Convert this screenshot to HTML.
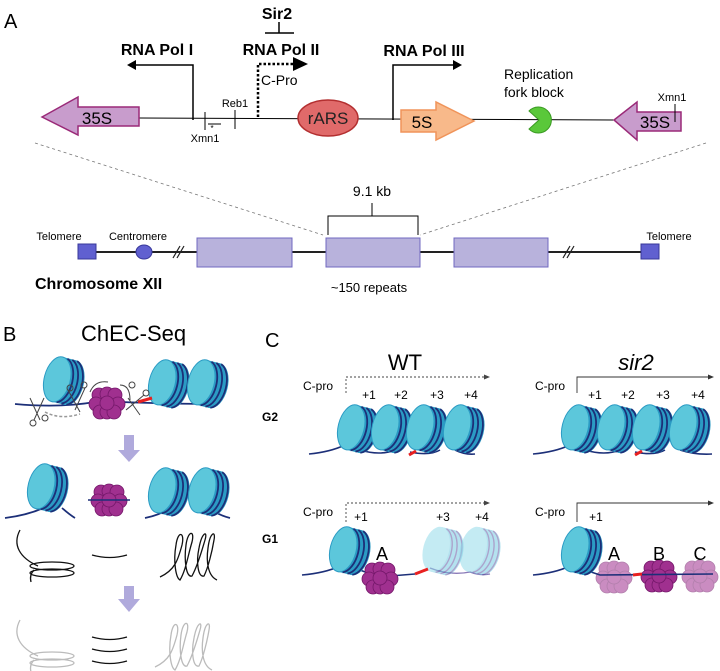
<!DOCTYPE html>
<html><head><meta charset="utf-8"><style>
html,body{margin:0;padding:0;background:#fff}
svg{display:block}
text{font-family:"Liberation Sans",sans-serif}
</style></head><body>
<svg width="720" height="671" viewBox="0 0 720 671" xmlns="http://www.w3.org/2000/svg">
<defs>
<g id="nuc">
 <g transform="rotate(14 22 26)">
  <rect x="15" y="3" width="14" height="46" fill="#2b9bc4"/>
  <ellipse cx="29" cy="26" rx="13" ry="23" fill="#2b9bc4"/>
  <ellipse cx="15" cy="26" rx="13" ry="23" fill="#5cc7db" stroke="#2b9bc4" stroke-width="1"/>
  <path d="M20,3.5 A13,23 0 0 1 20,48.5 M25,3.5 A13,23 0 0 1 25,48.5 M30,3.5 A13,23 0 0 1 30,48.5" fill="none" stroke="#1c2f78" stroke-width="1.8"/>
 </g>
</g>
<g id="nucf" opacity="0.5">
 <g transform="rotate(14 22 26)">
  <rect x="15" y="3" width="14" height="46" fill="#6cc6e0"/>
  <ellipse cx="29" cy="26" rx="13" ry="23" fill="#6cc6e0"/>
  <ellipse cx="15" cy="26" rx="13" ry="23" fill="#8ad8e8"/>
  <path d="M20,3.5 A13,23 0 0 1 20,48.5 M25,3.5 A13,23 0 0 1 25,48.5 M30,3.5 A13,23 0 0 1 30,48.5" fill="none" stroke="#5a4a9a" stroke-width="1.4"/>
 </g>
</g>
<g id="blob">
 <g fill="#a0308f" stroke="#74186a" stroke-width="0.8">
  <circle cx="-8" cy="-8" r="7"/><circle cx="0" cy="-9" r="7"/><circle cx="8" cy="-8" r="7"/>
  <circle cx="-11" cy="1" r="7"/><circle cx="11" cy="1" r="7"/>
  <circle cx="-7" cy="9" r="7"/><circle cx="0" cy="9" r="7"/><circle cx="7" cy="9" r="7"/>
  <circle cx="0" cy="0" r="7"/>
 </g>
</g>
<g id="coilL" fill="none" stroke-width="1.3">
 <path d="M20,530 C12,545 20,558 38,566"/>
 <ellipse cx="52" cy="566" rx="22" ry="4"/>
 <ellipse cx="52" cy="573" rx="22" ry="4"/>
 <path d="M34,570 C30,574 30,578 31,582"/>
</g>
<g id="coilR" fill="none" stroke-width="1.3">
 <path d="M160,577 C175,570 178,560 182,545 C185,532 178,530 176,545 C173,562 176,578 180,580 C186,570 188,555 192,542 C195,530 188,530 186,545 C184,560 186,578 192,576 C198,565 202,550 205,540 C208,530 202,532 199,548 C196,562 198,578 204,576 C208,568 212,552 214,540 C216,530 210,532 208,548 C206,562 208,576 217,580"/>
</g>
</defs>

<!-- Panel A -->
<text x="4" y="28" font-size="20">A</text>
<text x="277" y="19" font-size="16" font-weight="bold" text-anchor="middle">Sir2</text>
<line x1="279" y1="22" x2="279" y2="33" stroke="#000" stroke-width="1.5"/>
<line x1="265" y1="33" x2="294" y2="33" stroke="#000" stroke-width="1.5"/>
<text x="281" y="55" font-size="16" font-weight="bold" text-anchor="middle">RNA Pol II</text>
<text x="157" y="55" font-size="16" font-weight="bold" text-anchor="middle">RNA Pol I</text>
<text x="424" y="56" font-size="16" font-weight="bold" text-anchor="middle">RNA Pol III</text>

<path d="M193,120 V65 H134" fill="none" stroke="#000" stroke-width="1.5"/>
<polygon points="127,65 136,60 136,70" fill="#000"/>
<path d="M258,117 V64 H293" fill="none" stroke="#000" stroke-width="2.5" stroke-dasharray="2.5,2"/>
<polygon points="293,57 308,64 293,71" fill="#000"/>
<text x="261" y="85" font-size="14">C-Pro</text>
<path d="M393,120 V65 H455" fill="none" stroke="#000" stroke-width="1.5"/>
<polygon points="462,65 453,60 453,70" fill="#000"/>

<line x1="139" y1="118" x2="614" y2="120" stroke="#000" stroke-width="1"/>
<polygon points="42,117 78,97 78,107 139,107 139,126 78,126 78,135" fill="#c89ccc" stroke="#9a2a78" stroke-width="1.5"/>
<text x="97" y="124" font-size="17" text-anchor="middle">35S</text>
<line x1="205" y1="112" x2="205" y2="130" stroke="#000" stroke-width="1"/>
<line x1="208" y1="124" x2="221" y2="124" stroke="#000" stroke-width="1"/>
<text x="212" y="131" font-size="8" text-anchor="middle">*</text>
<text x="205" y="142" font-size="11" text-anchor="middle">Xmn1</text>
<text x="235" y="107" font-size="11" text-anchor="middle">Reb1</text>
<line x1="235" y1="110" x2="235" y2="129" stroke="#000" stroke-width="1"/>
<ellipse cx="328" cy="118" rx="30" ry="18" fill="#e06a6a" stroke="#b32f30" stroke-width="1.5"/>
<text x="328" y="124" font-size="17" text-anchor="middle" fill="#222">rARS</text>
<polygon points="401,110 436,110 436,102 474,121 436,140 436,132 401,132" fill="#f8b98a" stroke="#f0945a" stroke-width="1.5"/>
<text x="422" y="128" font-size="17" text-anchor="middle">5S</text>
<text x="504" y="79" font-size="14">Replication</text>
<text x="504" y="97" font-size="14">fork block</text>
<path d="M539,120 L529,111 A13,13 0 1 1 529,129 Z" fill="#5ac83a" stroke="#3a9a22" stroke-width="1"/>
<polygon points="614,120 637,102 637,112 681,112 681,131 637,131 637,140" fill="#c89ccc" stroke="#9a2a78" stroke-width="1.5"/>
<text x="655" y="128" font-size="17" text-anchor="middle">35S</text>
<line x1="675" y1="104" x2="675" y2="122" stroke="#000" stroke-width="1"/>
<text x="672" y="101" font-size="11" text-anchor="middle">Xmn1</text>

<line x1="35" y1="143" x2="323" y2="235" stroke="#777" stroke-width="0.8" stroke-dasharray="3,3"/>
<line x1="706" y1="143" x2="420" y2="235" stroke="#777" stroke-width="0.8" stroke-dasharray="3,3"/>

<text x="372" y="196" font-size="14" text-anchor="middle">9.1 kb</text>
<path d="M372,203 V216 M328,235 V216 H418 V235" fill="none" stroke="#000" stroke-width="1"/>
<line x1="96" y1="252" x2="641" y2="252" stroke="#222" stroke-width="2"/>
<rect x="78" y="244" width="18" height="15" fill="#6060d0" stroke="#38389a"/>
<rect x="641" y="244" width="18" height="15" fill="#6060d0" stroke="#38389a"/>
<ellipse cx="144" cy="252" rx="8" ry="7" fill="#6060d0" stroke="#38389a"/>
<path d="M173,258 L180,246 M177,258 L184,246 M563,258 L570,246 M567,258 L574,246" stroke="#222" stroke-width="1.2"/>
<rect x="197" y="238" width="95" height="29" fill="#b8b2dc" stroke="#7068c0"/>
<rect x="326" y="238" width="94" height="29" fill="#b8b2dc" stroke="#7068c0"/>
<rect x="454" y="238" width="94" height="29" fill="#b8b2dc" stroke="#7068c0"/>
<text x="59" y="240" font-size="11" text-anchor="middle">Telomere</text>
<text x="138" y="240" font-size="11" text-anchor="middle">Centromere</text>
<text x="669" y="240" font-size="11" text-anchor="middle">Telomere</text>
<text x="35" y="289" font-size="16" font-weight="bold">Chromosome XII</text>
<text x="369" y="292" font-size="13" text-anchor="middle">~150 repeats</text>

<!-- Panel B -->
<text x="3" y="341" font-size="20">B</text>
<text x="81" y="341" font-size="22">ChEC-Seq</text>
<path d="M15,404 Q60,408 95,402 L120,402 Q175,404 218,404" fill="none" stroke="#1c2f78" stroke-width="1.8"/>
<use href="#nuc" x="42" y="355"/>
<use href="#nuc" x="147" y="358"/>
<use href="#nuc" x="186" y="358"/>
<line x1="138" y1="402" x2="152" y2="398" stroke="#e82020" stroke-width="3"/>
<path d="M45,412 Q60,420 80,414" fill="none" stroke="#999" stroke-width="1.5" stroke-dasharray="3,2"/>
<use href="#blob" x="107" y="403"/>
<g fill="none" stroke="#444" stroke-width="1">
 <path d="M30,398 L40,420 M44,398 L34,420"/><circle cx="33" cy="423" r="3"/><circle cx="45" cy="418" r="3"/>
 <path d="M68,390 L80,412 M85,388 L75,410"/><circle cx="70" cy="388" r="3"/><circle cx="84" cy="385" r="3"/>
 <path d="M126,410 L144,395 M128,398 L140,415"/><circle cx="132" cy="385" r="3"/><circle cx="146" cy="393" r="3"/>
 <path d="M90,392 Q95,380 108,382 M120,385 Q130,385 130,400"/>
</g>
<polygon points="124,435 134,435 134,450 140,450 129,462 118,450 124,450" fill="#b0aadc"/>

<path d="M5,518 Q30,515 50,505 M62,508 Q70,515 75,518" fill="none" stroke="#1c2f78" stroke-width="1.8"/>
<use href="#nuc" x="26" y="462"/>
<use href="#blob" x="109" y="500"/>
<line x1="88" y1="500" x2="130" y2="500" stroke="#1c2f78" stroke-width="1.6"/>
<path d="M145,518 Q160,515 170,508 M215,512 Q222,516 230,518" fill="none" stroke="#1c2f78" stroke-width="1.8"/>
<use href="#nuc" x="147" y="466"/>
<use href="#nuc" x="187" y="466"/>

<use href="#coilL" stroke="#111"/>
<path d="M92,555 Q110,560 127,555" fill="none" stroke="#111" stroke-width="1.3"/>
<use href="#coilR" stroke="#111"/>
<polygon points="124,586 134,586 134,599 140,599 129,612 118,599 124,599" fill="#b0aadc"/>
<use href="#coilL" stroke="#bbb" transform="translate(0,90)"/>
<path d="M92,637 Q110,642 127,637 M92,649 Q110,654 127,649 M92,661 Q110,666 127,661" fill="none" stroke="#111" stroke-width="1.3"/>
<use href="#coilR" stroke="#bbb" transform="translate(-5,90)"/>

<!-- Panel C -->
<text x="265" y="347" font-size="20">C</text>
<text x="405" y="370" font-size="22" text-anchor="middle">WT</text>
<text x="636" y="370" font-size="22" font-style="italic" text-anchor="middle">sir2</text>
<text x="262" y="421" font-size="12" font-weight="bold">G2</text>
<text x="262" y="543" font-size="12" font-weight="bold">G1</text>

<path d="M346,393 V377 H485" fill="none" stroke="#444" stroke-width="0.9" stroke-dasharray="2,2"/>
<polygon points="490,377 484,374.5 484,379.5" fill="#444"/>
<text x="318" y="390" font-size="12" text-anchor="middle">C-pro</text>
<g font-size="12" text-anchor="middle">
<text x="369" y="399">+1</text><text x="401" y="399">+2</text><text x="437" y="399">+3</text><text x="471" y="399">+4</text>
</g>
<path d="M309,454 Q330,452 345,445 M360,450 Q380,456 395,450 M410,452 Q430,456 440,450 M455,450 Q465,455 475,454" fill="none" stroke="#1c2f78" stroke-width="1.6"/>
<use href="#nuc" x="336" y="403"/>
<use href="#nuc" x="370" y="403"/>
<use href="#nuc" x="405" y="403"/>
<use href="#nuc" x="442" y="403"/>
<line x1="409" y1="455" x2="416" y2="451" stroke="#e82020" stroke-width="3"/>

<path d="M577,393 V377 H709" fill="none" stroke="#333" stroke-width="0.9"/>
<polygon points="714,377 708,374.5 708,379.5" fill="#333"/>
<text x="550" y="390" font-size="12" text-anchor="middle">C-pro</text>
<g font-size="12" text-anchor="middle">
<text x="595" y="399">+1</text><text x="628" y="399">+2</text><text x="663" y="399">+3</text><text x="698" y="399">+4</text>
</g>
<path d="M533,454 Q555,452 570,445 M585,450 Q605,456 620,450 M635,452 Q655,456 665,450 M680,450 Q695,455 712,454" fill="none" stroke="#1c2f78" stroke-width="1.6"/>
<use href="#nuc" x="560" y="403"/>
<use href="#nuc" x="596" y="403"/>
<use href="#nuc" x="631" y="403"/>
<use href="#nuc" x="668" y="403"/>
<line x1="635" y1="455" x2="642" y2="451" stroke="#e82020" stroke-width="3"/>

<path d="M346,522 V503 H485" fill="none" stroke="#444" stroke-width="0.9" stroke-dasharray="2,2"/>
<polygon points="490,503 484,500.5 484,505.5" fill="#444"/>
<text x="318" y="516" font-size="12" text-anchor="middle">C-pro</text>
<g font-size="12" text-anchor="middle">
<text x="361" y="521">+1</text><text x="443" y="521">+3</text><text x="482" y="521">+4</text>
</g>
<path d="M302,575 Q325,573 340,566 M360,570 L378,577 L415,574" fill="none" stroke="#1c2f78" stroke-width="1.6"/>
<path d="M430,568 Q450,576 470,572 Q480,576 490,574" fill="none" stroke="#8a7ab8" stroke-width="1.4"/>
<use href="#nuc" x="328" y="525"/>
<use href="#nucf" x="421" y="525"/>
<use href="#nucf" x="458" y="525"/>
<use href="#blob" x="380" y="578"/>
<line x1="415" y1="574" x2="428" y2="569" stroke="#e82020" stroke-width="3"/>
<text x="382" y="560" font-size="18" text-anchor="middle">A</text>

<path d="M577,522 V503 H709" fill="none" stroke="#333" stroke-width="0.9"/>
<polygon points="714,503 708,500.5 708,505.5" fill="#333"/>
<text x="550" y="516" font-size="12" text-anchor="middle">C-pro</text>
<text x="596" y="521" font-size="12" text-anchor="middle">+1</text>
<use href="#blob" x="614" y="577" opacity="0.55"/>
<use href="#blob" x="659" y="576"/>
<use href="#blob" x="700" y="576" opacity="0.55"/>
<path d="M533,575 Q555,573 570,566 M585,570 L600,575 L713,574" fill="none" stroke="#1c2f78" stroke-width="1.6"/>
<use href="#nuc" x="560" y="525"/>
<line x1="633" y1="575" x2="642" y2="574" stroke="#e82020" stroke-width="3"/>
<text x="614" y="560" font-size="18" text-anchor="middle">A</text>
<text x="659" y="560" font-size="18" text-anchor="middle">B</text>
<text x="700" y="560" font-size="18" text-anchor="middle">C</text>
</svg>
</body></html>
